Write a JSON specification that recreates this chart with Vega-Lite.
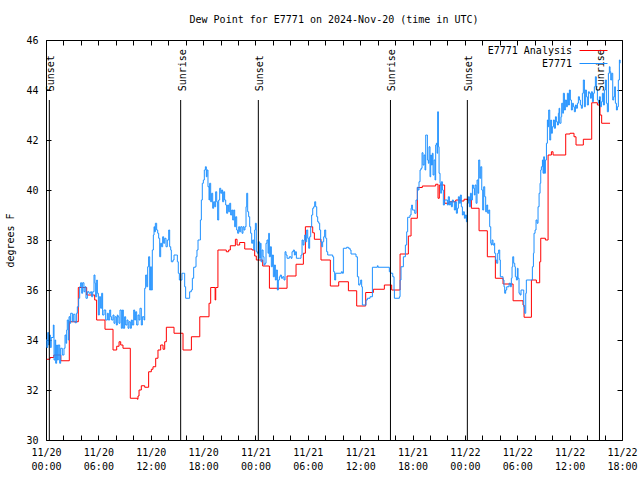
{
  "$schema": "https://vega.github.io/schema/vega-lite/v6.json",
  "width": 576,
  "height": 400,
  "autosize": {"type": "none"},
  "padding": {"left": 46, "top": 40, "right": 18, "bottom": 40},
  "background": "white",
  "config": {
    "view": {"stroke": "black", "strokeWidth": 1},
    "font": "DejaVu Sans Mono",
    "axis": {"labelFont": "DejaVu Sans Mono", "labelFontSize": 10, "labelColor": "black", "titleFont": "DejaVu Sans Mono", "titleFontSize": 10, "titleFontWeight": "normal", "titleColor": "black", "tickColor": "black", "domain": false, "grid": false},
    "legend": {"labelFont": "DejaVu Sans Mono", "labelFontSize": 10, "labelColor": "black"}
  },
  "title": {"text": "Dew Point for E7771 on 2024-Nov-20 (time in UTC)", "font": "DejaVu Sans Mono", "fontSize": 10, "fontWeight": "normal", "color": "black", "offset": 10},
  "datasets": {
    "analysis": [
      {"h":0.08,"v":33.23},{"h":0.46,"v":33.3},{"h":0.9,"v":33.4},{"h":1.7,"v":33.17},{"h":2.67,"v":34.73},{"h":3.7,"v":36.1},{"h":4.66,"v":35.8},{"h":5.58,"v":35.6},{"h":5.8,"v":34.8},{"h":6.76,"v":34.43},{"h":7.68,"v":33.6},{"h":8.1,"v":33.75},{"h":8.37,"v":33.93},{"h":8.56,"v":33.8},{"h":8.82,"v":33.67},{"h":9.66,"v":31.67},{"h":10.47,"v":31.63},{"h":10.54,"v":31.76},{"h":10.66,"v":32.0},{"h":10.92,"v":32.17},{"h":11.31,"v":32.11},{"h":11.76,"v":32.73},{"h":12.07,"v":32.83},{"h":12.26,"v":32.93},{"h":12.57,"v":33.27},{"h":12.83,"v":33.6},{"h":13.14,"v":33.8},{"h":13.41,"v":33.63},{"h":13.6,"v":33.93},{"h":13.79,"v":34.51},{"h":14.67,"v":34.27},{"h":15.7,"v":33.6},{"h":16.66,"v":34.13},{"h":17.62,"v":34.93},{"h":18.68,"v":35.47},{"h":18.87,"v":36.1},{"h":19.38,"v":35.6},{"h":19.45,"v":36.1},{"h":19.7,"v":37.6},{"h":20.66,"v":37.53},{"h":20.93,"v":37.6},{"h":21.12,"v":37.77},{"h":21.7,"v":38.03},{"h":21.89,"v":37.8},{"h":22.19,"v":37.9},{"h":22.77,"v":37.64},{"h":23.61,"v":37.6},{"h":23.91,"v":37.36},{"h":24.1,"v":37.2},{"h":24.83,"v":36.96},{"h":25.6,"v":36.07},{"h":27.62,"v":36.56},{"h":28.65,"v":37.03},{"h":29.49,"v":37.47},{"h":29.72,"v":38.53},{"h":30.56,"v":38.29},{"h":30.75,"v":38.03},{"h":31.51,"v":37.2},{"h":32.58,"v":36.16},{"h":33.54,"v":36.33},{"h":34.65,"v":35.97},{"h":35.6,"v":35.36},{"h":36.63,"v":35.9},{"h":37.51,"v":36.03},{"h":38.77,"v":36.2},{"h":39.61,"v":36.0},{"h":40.57,"v":37.44},{"h":41.52,"v":38.16},{"h":41.83,"v":38.87},{"h":42.55,"v":40.1},{"h":43.12,"v":40.16},{"h":44.65,"v":40.23},{"h":44.92,"v":39.67},{"h":45.07,"v":40.2},{"h":45.68,"v":39.47},{"h":46.18,"v":39.53},{"h":46.95,"v":39.6},{"h":47.52,"v":39.56},{"h":47.9,"v":39.63},{"h":48.28,"v":39.6},{"h":48.74,"v":39.27},{"h":49.62,"v":38.37},{"h":50.57,"v":37.33},{"h":51.49,"v":36.47},{"h":52.37,"v":36.24},{"h":53.52,"v":35.57},{"h":54.66,"v":35.4},{"h":54.78,"v":34.91},{"h":55.62,"v":36.4},{"h":56.19,"v":36.29},{"h":56.57,"v":37.13},{"h":56.69,"v":38.07},{"h":57.22,"v":38.0},{"h":57.53,"v":41.4},{"h":57.91,"v":41.53},{"h":58.1,"v":41.4},{"h":59.55,"v":42.24},{"h":60.05,"v":42.27},{"h":60.5,"v":42.13},{"h":60.73,"v":41.8},{"h":61.57,"v":42.03},{"h":62.53,"v":43.49},{"h":63.18,"v":43.4},{"h":63.48,"v":43.0},{"h":63.67,"v":42.67},{"h":64.63,"v":42.67}
    ],
    "obs": [
      {"h":0,"v":34.0},{"h":0.1,"v":33.7},{"h":0.2,"v":34.3},{"h":0.3,"v":33.8},{"h":0.4,"v":34.2},{"h":0.5,"v":33.7},{"h":0.6,"v":34.1},{"h":0.84,"v":34.6},{"h":0.92,"v":33.2},{"h":1.03,"v":34.0},{"h":1.11,"v":33.07},{"h":1.22,"v":33.8},{"h":1.3,"v":33.2},{"h":1.41,"v":33.8},{"h":1.57,"v":33.07},{"h":1.68,"v":33.67},{"h":1.87,"v":33.4},{"h":2.06,"v":33.67},{"h":2.18,"v":34.2},{"h":2.29,"v":33.87},{"h":2.37,"v":34.4},{"h":2.44,"v":34.8},{"h":2.56,"v":34.0},{"h":2.64,"v":34.93},{"h":2.75,"v":34.67},{"h":2.83,"v":35.07},{"h":3.02,"v":34.73},{"h":3.13,"v":35.03},{"h":3.32,"v":34.69},{"h":3.48,"v":35.07},{"h":3.59,"v":35.33},{"h":3.74,"v":35.67},{"h":3.86,"v":36.13},{"h":3.97,"v":36.29},{"h":4.09,"v":35.87},{"h":4.2,"v":36.29},{"h":4.35,"v":35.93},{"h":4.47,"v":36.13},{"h":4.58,"v":35.67},{"h":4.74,"v":35.93},{"h":4.93,"v":35.87},{"h":5.12,"v":35.93},{"h":5.23,"v":35.73},{"h":5.35,"v":35.93},{"h":5.5,"v":36.6},{"h":5.61,"v":36.27},{"h":5.69,"v":35.73},{"h":5.81,"v":36.4},{"h":5.88,"v":35.87},{"h":6.0,"v":35.0},{"h":6.11,"v":35.73},{"h":6.26,"v":35.27},{"h":6.38,"v":35.87},{"h":6.49,"v":35.0},{"h":6.65,"v":35.2},{"h":6.84,"v":34.8},{"h":7.03,"v":35.07},{"h":7.14,"v":34.8},{"h":7.3,"v":35.2},{"h":7.41,"v":34.93},{"h":7.52,"v":34.8},{"h":7.68,"v":35.0},{"h":7.79,"v":34.67},{"h":7.91,"v":34.93},{"h":8.06,"v":34.6},{"h":8.17,"v":35.0},
      {"h":8.25,"v":34.93},{"h":8.36,"v":34.67},{"h":8.48,"v":35.2},{"h":8.63,"v":34.47},{"h":8.75,"v":35.2},{"h":8.86,"v":34.47},{"h":9.01,"v":34.93},{"h":9.13,"v":34.6},{"h":9.28,"v":34.8},{"h":9.4,"v":34.47},{"h":9.51,"v":34.73},{"h":9.66,"v":34.47},{"h":9.78,"v":34.8},{"h":9.89,"v":34.6},{"h":10.05,"v":35.2},{"h":10.16,"v":34.8},{"h":10.27,"v":35.13},{"h":10.39,"v":34.6},{"h":10.54,"v":35.0},{"h":10.66,"v":34.8},{"h":10.77,"v":35.27},{"h":10.92,"v":34.6},{"h":11.04,"v":34.93},{"h":11.23,"v":34.8},{"h":11.31,"v":36.07},{"h":11.42,"v":36.6},{"h":11.54,"v":36.13},{"h":11.65,"v":36.93},{"h":11.76,"v":37.33},{"h":11.88,"v":36.0},{"h":11.99,"v":36.93},{"h":12.07,"v":36.0},{"h":12.18,"v":37.6},{"h":12.3,"v":38.2},{"h":12.38,"v":38.53},{"h":12.45,"v":38.33},{"h":12.53,"v":38.67},{"h":12.68,"v":38.4},{"h":12.8,"v":38.27},{"h":12.91,"v":38.07},{"h":13.03,"v":37.33},{"h":13.14,"v":37.87},{"h":13.25,"v":37.73},{"h":13.37,"v":38.13},{"h":13.48,"v":37.87},{"h":13.6,"v":38.07},{"h":13.75,"v":37.73},{"h":13.9,"v":38.0},{"h":14.06,"v":38.4},{"h":14.17,"v":37.73},{"h":14.29,"v":37.6},{"h":14.36,"v":37.13},{"h":14.55,"v":37.2},{"h":14.67,"v":37.4},{"h":14.94,"v":37.4},{"h":15.05,"v":37.13},{"h":15.16,"v":36.67},{"h":15.28,"v":36.4},{"h":15.47,"v":36.4},{"h":15.58,"v":36.67},{"h":15.78,"v":36.67},{"h":15.89,"v":36.13},{"h":16.0,"v":35.67},{"h":16.39,"v":35.67},{"h":16.46,"v":35.93},{"h":16.65,"v":36.0},{"h":16.77,"v":36.47},{"h":16.92,"v":36.91},
      {"h":17.11,"v":36.93},{"h":17.19,"v":37.33},{"h":17.3,"v":37.6},{"h":17.42,"v":38.0},{"h":17.57,"v":38.0},{"h":17.69,"v":38.8},{"h":17.8,"v":39.6},{"h":17.91,"v":40.27},{"h":18.03,"v":40.4},{"h":18.14,"v":40.8},{"h":18.26,"v":40.93},{"h":18.37,"v":40.53},{"h":18.45,"v":40.8},{"h":18.56,"v":40.13},{"h":18.68,"v":39.6},{"h":18.75,"v":40.27},{"h":18.87,"v":39.53},{"h":18.98,"v":39.87},{"h":19.1,"v":39.27},{"h":19.21,"v":39.53},{"h":19.33,"v":39.33},{"h":19.44,"v":39.93},{"h":19.56,"v":39.53},{"h":19.67,"v":38.8},{"h":19.79,"v":39.6},{"h":19.9,"v":40.07},{"h":20.02,"v":39.87},{"h":20.13,"v":40.0},{"h":20.24,"v":39.53},{"h":20.36,"v":39.93},{"h":20.47,"v":39.6},{"h":20.59,"v":39.4},{"h":20.7,"v":39.07},{"h":20.82,"v":39.4},{"h":20.93,"v":39.13},{"h":21.05,"v":39.47},{"h":21.16,"v":39.0},{"h":21.28,"v":39.2},{"h":21.39,"v":38.8},{"h":21.51,"v":39.2},{"h":21.62,"v":38.53},{"h":21.73,"v":38.93},{"h":21.85,"v":38.4},{"h":21.96,"v":38.27},{"h":22.08,"v":38.53},{"h":22.19,"v":38.33},{"h":22.31,"v":38.53},{"h":22.46,"v":38.27},{"h":22.57,"v":38.53},{"h":22.69,"v":38.4},{"h":22.8,"v":38.53},{"h":22.92,"v":39.33},{"h":23.0,"v":39.87},{"h":23.11,"v":39.13},{"h":23.22,"v":38.93},{"h":23.34,"v":38.53},{"h":23.45,"v":38.27},{"h":23.57,"v":37.87},{"h":23.68,"v":38.0},{"h":23.8,"v":37.6},{"h":23.91,"v":38.4},{"h":23.99,"v":38.67},{"h":24.1,"v":37.53},{"h":24.22,"v":37.47},{"h":24.33,"v":37.93},{"h":24.45,"v":37.27},{"h":24.56,"v":37.87},{"h":24.64,"v":37.13},{"h":24.75,"v":37.6},{"h":24.87,"v":37.33},{"h":24.98,"v":37.0},{"h":25.09,"v":37.07},{"h":25.21,"v":37.87},
      {"h":25.32,"v":38.0},{"h":25.44,"v":37.47},{"h":25.52,"v":38.27},{"h":25.59,"v":37.33},{"h":25.71,"v":37.73},{"h":25.82,"v":36.93},{"h":25.94,"v":37.4},{"h":26.05,"v":36.53},{"h":26.17,"v":37.0},{"h":26.28,"v":36.4},{"h":26.39,"v":36.8},{"h":26.51,"v":36.0},{"h":26.62,"v":36.4},{"h":26.74,"v":36.53},{"h":26.85,"v":36.6},{"h":26.97,"v":36.47},{"h":27.12,"v":36.53},{"h":27.27,"v":36.4},{"h":27.39,"v":37.53},{"h":27.5,"v":37.4},{"h":27.62,"v":37.27},{"h":27.88,"v":37.33},{"h":28.08,"v":37.27},{"h":28.19,"v":37.53},{"h":28.34,"v":37.6},{"h":28.46,"v":37.4},{"h":28.57,"v":37.53},{"h":28.69,"v":37.27},{"h":29.03,"v":37.27},{"h":29.22,"v":37.4},{"h":29.34,"v":38.0},{"h":29.45,"v":37.8},{"h":29.56,"v":38.0},{"h":29.64,"v":38.2},{"h":29.76,"v":37.93},{"h":29.87,"v":38.4},{"h":29.99,"v":38.07},{"h":30.1,"v":37.67},{"h":30.21,"v":38.13},{"h":30.33,"v":38.53},{"h":30.44,"v":39.0},{"h":30.56,"v":39.27},{"h":30.67,"v":39.33},{"h":30.79,"v":39.53},{"h":30.9,"v":39.33},{"h":31.02,"v":38.93},{"h":31.13,"v":38.73},{"h":31.25,"v":38.67},{"h":31.36,"v":38.4},{"h":31.47,"v":37.93},{"h":31.59,"v":37.73},{"h":31.7,"v":37.93},{"h":31.82,"v":38.13},{"h":31.93,"v":38.4},{"h":32.05,"v":38.07},{"h":32.16,"v":37.53},{"h":32.28,"v":37.4},{"h":32.85,"v":37.33},{"h":32.96,"v":36.73},{"h":33.08,"v":36.4},{"h":33.19,"v":36.67},{"h":33.84,"v":36.73},{"h":33.96,"v":36.67},
      {"h":34.07,"v":37.67},{"h":34.45,"v":37.71},{"h":34.65,"v":37.67},{"h":34.84,"v":37.6},{"h":34.95,"v":37.44},{"h":35.52,"v":37.33},{"h":35.68,"v":36.53},{"h":35.83,"v":36.2},{"h":35.98,"v":36.27},{"h":36.06,"v":36.4},{"h":36.17,"v":36.13},{"h":36.25,"v":35.4},{"h":36.67,"v":35.6},{"h":36.82,"v":35.67},{"h":37.13,"v":35.73},{"h":37.4,"v":36.91},{"h":37.97,"v":36.97},{"h":38.05,"v":36.91},{"h":39.34,"v":36.73},{"h":39.5,"v":36.67},{"h":39.73,"v":36.53},{"h":39.88,"v":36.0},{"h":39.92,"v":35.67},{"h":40.49,"v":35.73},{"h":40.57,"v":36.4},{"h":40.68,"v":36.93},{"h":40.95,"v":37.33},{"h":41.18,"v":37.8},{"h":41.33,"v":38.33},{"h":41.44,"v":38.91},{"h":41.71,"v":39.0},{"h":41.83,"v":39.27},{"h":41.9,"v":39.4},{"h":41.98,"v":39.2},{"h":42.25,"v":39.07},{"h":42.4,"v":39.6},{"h":42.55,"v":40.11},
      {"h":42.63,"v":40.0},{"h":42.74,"v":40.33},{"h":42.86,"v":40.8},{"h":42.97,"v":40.87},{"h":43.09,"v":41.49},{"h":43.2,"v":41.0},{"h":43.32,"v":41.4},{"h":43.43,"v":40.8},{"h":43.51,"v":42.2},{"h":43.62,"v":42.2},{"h":43.7,"v":41.2},{"h":43.81,"v":41.07},{"h":43.89,"v":41.73},{"h":44.0,"v":40.53},{"h":44.08,"v":41.4},{"h":44.16,"v":41.0},{"h":44.27,"v":41.47},{"h":44.35,"v":40.6},{"h":44.46,"v":41.2},{"h":44.58,"v":40.4},{"h":44.65,"v":41.8},{"h":44.73,"v":41.87},{"h":44.81,"v":41.47},{"h":44.88,"v":43.13},{"h":44.96,"v":41.73},{"h":45.04,"v":40.67},{"h":45.15,"v":40.27},{"h":45.23,"v":39.87},{"h":45.3,"v":40.33},{"h":45.42,"v":40.0},{"h":45.53,"v":39.4},{"h":45.65,"v":39.6},{"h":45.99,"v":39.4},{"h":46.1,"v":39.73},{"h":46.22,"v":39.4},{"h":46.33,"v":39.53},{"h":46.45,"v":39.33},{"h":46.56,"v":39.6},{"h":46.68,"v":39.53},{"h":46.79,"v":39.2},{"h":46.91,"v":39.53},{"h":47.02,"v":39.07},{"h":47.14,"v":39.27},{"h":47.25,"v":39.73},{"h":47.37,"v":39.47},{"h":47.48,"v":39.8},{"h":47.59,"v":39.33},{"h":47.71,"v":39.0},{"h":47.82,"v":39.13},{"h":47.94,"v":38.87},{"h":48.05,"v":39.0},{"h":48.17,"v":38.73},{"h":48.28,"v":39.47},{"h":48.4,"v":39.73},{"h":48.51,"v":39.33},{"h":48.63,"v":39.87},{"h":48.74,"v":39.6},{"h":48.86,"v":40.2},{"h":48.97,"v":40.07},{"h":49.08,"v":39.8},{"h":49.16,"v":40.2},{"h":49.28,"v":39.47},{"h":49.39,"v":40.4},{"h":49.5,"v":39.87},{"h":49.58,"v":41.2},{"h":49.7,"v":40.47},{"h":49.81,"v":40.93},{"h":49.93,"v":40.0},{"h":50.04,"v":39.2},{"h":50.15,"v":40.13},{"h":50.27,"v":39.73},{"h":50.38,"v":39.13},{"h":50.5,"v":39.4},{"h":50.61,"v":39.07},{"h":50.73,"v":39.2},{"h":50.84,"v":38.53},{"h":50.96,"v":37.87},
      {"h":51.03,"v":37.8},{"h":51.11,"v":38.0},{"h":51.22,"v":37.8},{"h":51.34,"v":37.87},{"h":51.41,"v":37.47},{"h":51.53,"v":37.2},{"h":51.64,"v":37.07},{"h":51.76,"v":37.47},{"h":51.87,"v":37.6},{"h":51.99,"v":37.2},{"h":52.06,"v":36.53},{"h":52.37,"v":36.4},{"h":52.48,"v":36.13},{"h":52.56,"v":35.87},{"h":52.67,"v":36.0},{"h":52.79,"v":36.13},{"h":53.06,"v":36.27},{"h":53.21,"v":36.13},{"h":53.32,"v":36.47},{"h":53.4,"v":36.93},{"h":53.48,"v":37.33},{"h":53.59,"v":37.07},{"h":53.71,"v":36.93},{"h":53.78,"v":36.53},{"h":53.9,"v":36.4},{"h":54.01,"v":36.87},{"h":54.09,"v":36.47},{"h":54.2,"v":35.87},{"h":54.32,"v":35.8},{"h":54.43,"v":36.0},{"h":54.74,"v":35.33},{"h":54.85,"v":35.07},{"h":54.97,"v":35.87},{"h":55.04,"v":36.4},{"h":55.62,"v":36.4},{"h":55.73,"v":36.93},{"h":55.85,"v":37.47},{"h":55.92,"v":38.27},{"h":56.04,"v":38.4},{"h":56.15,"v":38.8},{"h":56.27,"v":38.67},{"h":56.38,"v":39.33},{"h":56.5,"v":39.87},{"h":56.61,"v":40.27},{"h":56.69,"v":40.8},{"h":56.76,"v":40.93},{"h":56.88,"v":41.2},{"h":56.95,"v":40.67},{"h":57.03,"v":41.33},{"h":57.11,"v":40.67},{"h":57.22,"v":41.2},{"h":57.34,"v":41.87},{"h":57.45,"v":42.8},{"h":57.53,"v":42.53},{"h":57.6,"v":43.2},{"h":57.72,"v":42.0},{"h":57.83,"v":42.8},{"h":57.91,"v":42.27},{"h":58.02,"v":42.53},{"h":58.14,"v":42.8},{"h":58.25,"v":42.47},{"h":58.37,"v":42.93},{"h":58.48,"v":42.73},{"h":58.6,"v":42.6},{"h":58.71,"v":43.07},{"h":58.79,"v":43.27},{"h":58.86,"v":42.67},
      {"h":59.01,"v":42.93},{"h":59.09,"v":43.47},{"h":59.21,"v":43.07},{"h":59.28,"v":43.87},{"h":59.4,"v":43.2},{"h":59.51,"v":43.6},{"h":59.63,"v":43.33},{"h":59.74,"v":43.87},{"h":59.86,"v":43.4},{"h":59.97,"v":44.0},{"h":60.08,"v":43.6},{"h":60.2,"v":43.2},{"h":60.31,"v":43.47},{"h":60.43,"v":43.33},{"h":60.54,"v":43.13},{"h":60.66,"v":43.4},{"h":60.77,"v":43.27},{"h":60.89,"v":43.47},{"h":61.0,"v":43.73},{"h":61.12,"v":43.6},{"h":61.23,"v":43.4},{"h":61.34,"v":43.27},{"h":61.46,"v":43.87},{"h":61.57,"v":44.4},{"h":61.69,"v":43.33},{"h":61.8,"v":44.0},{"h":61.92,"v":43.73},{"h":62.03,"v":43.4},{"h":62.15,"v":43.93},{"h":62.26,"v":43.87},{"h":62.38,"v":43.67},{"h":62.49,"v":43.93},{"h":62.61,"v":43.53},{"h":62.72,"v":43.87},{"h":62.83,"v":44.13},{"h":62.95,"v":44.53},{"h":63.06,"v":44.0},{"h":63.18,"v":43.6},{"h":63.29,"v":43.47},{"h":63.41,"v":43.73},{"h":63.52,"v":43.33},{"h":63.64,"v":43.53},{"h":63.75,"v":43.87},{"h":63.87,"v":43.4},{"h":63.98,"v":44.0},{"h":64.1,"v":44.4},{"h":64.21,"v":43.47},{"h":64.32,"v":43.13},{"h":64.44,"v":44.67},{"h":64.55,"v":44.93},{"h":64.63,"v":44.73},{"h":64.71,"v":44.4},{"h":64.82,"v":44.67},{"h":64.94,"v":43.6},{"h":65.05,"v":43.73},{"h":65.16,"v":44.13},{"h":65.24,"v":43.47},{"h":65.36,"v":43.2},{"h":65.47,"v":43.33},{"h":65.58,"v":44.4},{"h":65.7,"v":45.2},{"h":65.78,"v":45.07}
    ],
    "sun": [
      {"h":0.38,"event":"Sunset"},{"h":15.43,"event":"Sunrise"},{"h":24.33,"event":"Sunset"},{"h":39.47,"event":"Sunrise"},{"h":48.28,"event":"Sunset"},{"h":63.42,"event":"Sunrise"}
    ]
  },
  "layer": [
    {
      "data": {"name": "analysis"},
      "mark": {"type": "line", "interpolate": "step-after", "strokeWidth": 1},
      "encoding": {
        "x": {"field": "h", "type": "quantitative", "scale": {"domain": [0, 66], "nice": false, "zero": false},
          "axis": {"orient": "bottom", "title": null, "values": [0,2,4,6,8,10,12,14,16,18,20,22,24,26,28,30,32,34,36,38,40,42,44,46,48,50,52,54,56,58,60,62,64,66],
            "labelExpr": "datum.value % 6 == 0 ? ['11/' + (20 + floor(datum.value / 24)), (datum.value % 24 < 10 ? '0' : '') + (datum.value % 24) + ':00'] : ''",
            "tickSize": -5, "labelPadding": 12, "labelOverlap": false, "labelFlush": false, "labelAngle": 0, "labelLineHeight": 14, "labelBaseline": "top"}},
        "y": {"field": "v", "type": "quantitative", "scale": {"domain": [30, 46], "nice": false, "zero": false},
          "axis": {"orient": "left", "title": "degrees F", "values": [30,32,34,36,38,40,42,44,46], "tickSize": -5, "labelPadding": 13, "titlePadding": 10}},
        "color": {"datum": "E7771 Analysis", "type": "nominal",
          "scale": {"domain": ["E7771 Analysis", "E7771"], "range": ["#ff0000", "#1e90ff"]},
          "legend": {"orient": "top-right", "title": null, "symbolType": "M-2.8,0H2.8M4.2,0h0", "symbolSize": 100, "symbolStrokeWidth": 1, "symbolFillColor": "transparent", "offset": 5, "rowPadding": 2, "labelAlign": "right", "labelOffset": -27, "padding": 0,
            "encode": {"symbols": {"update": {"stroke": {"scale": "color", "field": "value"}, "strokeWidth": {"value": 1}}}}}}
      }
    },
    {
      "data": {"name": "obs"},
      "mark": {"type": "line", "interpolate": "step-after", "strokeWidth": 1},
      "encoding": {
        "x": {"field": "h", "type": "quantitative", "axis": null},
        "y": {"field": "v", "type": "quantitative", "axis": null},
        "color": {"datum": "E7771", "type": "nominal"}
      }
    },
    {
      "data": {"name": "sun"},
      "mark": {"type": "rule", "color": "black", "strokeWidth": 1},
      "encoding": {
        "x": {"field": "h", "type": "quantitative",
          "axis": {"orient": "top", "title": null, "labels": false, "values": [0,2,4,6,8,10,12,14,16,18,20,22,24,26,28,30,32,34,36,38,40,42,44,46,48,50,52,54,56,58,60,62,64,66], "tickSize": -5}},
        "y": {"datum": 43.6, "type": "quantitative", "axis": {"orient": "right", "title": null, "labels": false, "values": [30,32,34,36,38,40,42,44,46], "tickSize": -5}},
        "y2": {"datum": 30}
      }
    },
    {
      "data": {"name": "sun"},
      "mark": {"type": "text", "angle": 270, "align": "left", "baseline": "middle", "font": "DejaVu Sans Mono", "fontSize": 10, "color": "black", "dy": 2},
      "encoding": {
        "x": {"field": "h", "type": "quantitative", "axis": null},
        "y": {"datum": 43.95, "type": "quantitative", "axis": null},
        "text": {"field": "event"}
      }
    }
  ],
  "resolve": {"axis": {"x": "independent", "y": "independent"}}
}
